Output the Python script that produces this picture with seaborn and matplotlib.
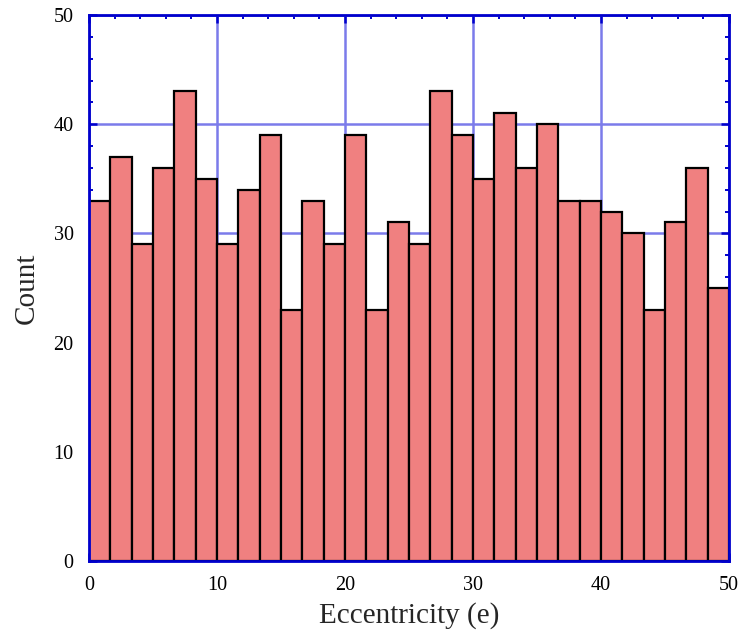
import numpy as np
import pandas as pd
import matplotlib
matplotlib.use("Agg")
import matplotlib.pyplot as plt
import seaborn as sns
from matplotlib.ticker import MultipleLocator

# Data: counts per bin (30 bins from 0 to 50)
bin_edges_range = (0, 50)
n_bins = 30
counts = [33, 37, 29, 36, 43, 35, 29, 34, 39, 23,
          33, 29, 39, 23, 31, 29, 43, 39, 35, 41,
          36, 40, 33, 33, 32, 30, 23, 31, 36, 25]
x_label = "Eccentricity (e)"
y_label = "Count"
x_ticks = [0, 10, 20, 30, 40, 50]
y_ticks = [0, 10, 20, 30, 40, 50]

width = (bin_edges_range[1] - bin_edges_range[0]) / n_bins
centers = [bin_edges_range[0] + width * (i + 0.5) for i in range(n_bins)]
df = pd.DataFrame({"e": centers, "count": counts})

sns.set_theme(style="white")
plt.rcParams['font.family'] = ['Liberation Serif', 'DejaVu Serif']

spine_color = '#0000cc'
grid_color = '#7b7bea'

fig = plt.figure(figsize=(7.39, 6.33), dpi=100)
ax = fig.add_axes([89/739, 1 - 561/633, 640/739, 546/633])

sns.histplot(data=df, x="e", weights="count", bins=n_bins, binrange=bin_edges_range,
             color='#F08080', alpha=1.0, edgecolor='black', linewidth=1.6, ax=ax, zorder=3)

ax.set_xlim(0, 50)
ax.set_ylim(0, 50)
ax.set_xticks(x_ticks)
ax.set_yticks(y_ticks)
ax.xaxis.set_minor_locator(MultipleLocator(2))
ax.yaxis.set_minor_locator(MultipleLocator(2))

ax.grid(True, which='major', color=grid_color, linewidth=1.8, zorder=0)
ax.set_axisbelow(True)

for s in ax.spines.values():
    s.set_color(spine_color)
    s.set_linewidth(2.0)
    s.set_visible(True)
    s.set_zorder(5)

ax.tick_params(which='both', direction='in', top=True, right=True, bottom=True, left=True,
               color=spine_color)
ax.tick_params(which='major', length=5.5, width=1.8, labelsize=14.5, pad=11, labelcolor='black')
ax.tick_params(which='minor', length=3, width=1.4)

ax.set_xlabel(x_label, fontsize=21, labelpad=5)
ax.set_ylabel(y_label, fontsize=21, labelpad=10)

fig.savefig("out.png", dpi=100)
